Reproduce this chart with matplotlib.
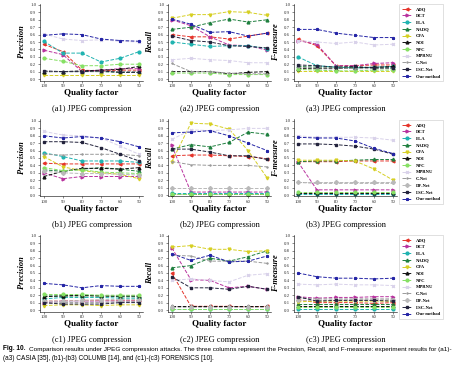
import numpy as np
import matplotlib
matplotlib.use('Agg')
import matplotlib.pyplot as plt

# quality factors (x axis, drawn from 100 down to 50)
quality = [100, 90, 80, 70, 60, 50]

methods = ['ADQ', 'DCT', 'ELA', 'NADQ', 'CFA', 'NOI', 'NFC', 'MPRNU',
           'C-Net', 'DF-Net', 'LSC-Net', 'Our method']

# style of every method (colour, marker)
colours = ['#e5332a', '#b8329e', '#1fb3b0', '#1e7f3e', '#d6cf23', '#111111',
           '#86e064', '#d9d2ea', '#9a9a9a', '#b9b9b9', '#23233c', '#2525a6']
markers = ['<', '>', 'o', '^', 'v', '^', 'o', 'x', '+', 'D', 's', '*']

# CASIA (row a), one list per method in the order of `methods`, None = not evaluated
a1 = [[0.47, 0.37, 0.12, 0.11, 0.12, 0.12], [0.39, 0.33, 0.10, 0.12, 0.14, 0.14],
      [0.51, 0.35, 0.35, 0.23, 0.28, 0.37], [0.10, 0.10, 0.10, 0.10, 0.09, 0.09],
      [0.06, 0.06, 0.06, 0.06, 0.06, 0.06], [0.10, 0.10, 0.11, 0.12, 0.13, 0.17],
      [0.28, 0.24, 0.18, 0.18, 0.20, 0.20], [0.61, 0.54, 0.52, 0.53, 0.51, 0.50],
      [0.11, 0.11, 0.11, 0.11, 0.11, 0.11], None,
      [0.11, 0.10, 0.10, 0.11, 0.09, 0.09], [0.59, 0.61, 0.60, 0.54, 0.52, 0.51]]
a2 = [[0.60, 0.57, 0.57, 0.54, 0.58, 0.62], [0.80, 0.72, 0.57, 0.46, 0.45, 0.39],
      [0.50, 0.47, 0.44, 0.45, 0.45, 0.41], [0.67, 0.70, 0.76, 0.81, 0.77, 0.80],
      [0.82, 0.87, 0.87, 0.91, 0.90, 0.86], [0.10, 0.10, 0.10, 0.07, 0.09, 0.10],
      [0.08, 0.08, 0.08, 0.06, 0.06, 0.06], [0.26, 0.28, 0.26, 0.25, 0.22, 0.22],
      [0.21, 0.10, 0.10, 0.08, 0.07, 0.07], None,
      [0.58, 0.52, 0.50, 0.45, 0.44, 0.42], [0.81, 0.74, 0.63, 0.64, 0.58, 0.62]]
a3 = [[0.54, 0.45, 0.18, 0.18, 0.19, 0.19], [0.52, 0.47, 0.18, 0.18, 0.21, 0.22],
      [0.30, 0.18, 0.16, 0.15, 0.16, 0.17], [0.17, 0.16, 0.16, 0.16, 0.15, 0.15],
      [0.11, 0.11, 0.11, 0.11, 0.11, 0.11], [0.14, 0.14, 0.14, 0.15, 0.16, 0.17],
      [0.13, 0.12, 0.11, 0.11, 0.12, 0.12], [0.52, 0.50, 0.48, 0.50, 0.46, 0.47],
      [0.16, 0.15, 0.15, 0.14, 0.14, 0.14], None,
      [0.19, 0.18, 0.16, 0.17, 0.15, 0.15], [0.67, 0.67, 0.62, 0.59, 0.56, 0.56]]

# COLUMB (row b)
b1 = [[0.43, 0.42, 0.42, 0.42, 0.42, 0.42], [0.30, 0.22, 0.25, 0.25, 0.25, 0.25],
      [0.57, 0.52, 0.46, 0.46, 0.46, 0.44], [0.34, 0.32, 0.35, 0.37, 0.35, 0.32],
      [0.52, 0.38, 0.33, 0.30, 0.28, 0.22], [0.25, 0.32, 0.36, 0.36, 0.35, 0.37],
      [0.37, 0.33, 0.34, 0.31, 0.30, 0.29], [0.86, 0.81, 0.80, 0.77, 0.66, 0.55],
      [0.55, 0.54, 0.55, 0.55, 0.55, 0.53], [0.32, 0.30, 0.29, 0.29, 0.28, 0.27],
      [0.72, 0.72, 0.71, 0.64, 0.55, 0.46], [0.80, 0.77, 0.79, 0.77, 0.72, 0.65]]
b2 = [[0.53, 0.54, 0.54, 0.53, 0.52, 0.49], [0.67, 0.04, 0.04, 0.04, 0.04, 0.04],
      [0.03, 0.03, 0.03, 0.03, 0.03, 0.03], [0.62, 0.68, 0.65, 0.71, 0.85, 0.82],
      [0.45, 0.97, 0.96, 0.89, 0.60, 0.23], [0.01, 0.01, 0.01, 0.01, 0.01, 0.01],
      [0.02, 0.02, 0.02, 0.02, 0.02, 0.02], [0.75, 0.88, 0.87, 0.88, 0.90, 0.90],
      [0.45, 0.41, 0.40, 0.40, 0.40, 0.38], [0.10, 0.10, 0.10, 0.10, 0.10, 0.10],
      [0.62, 0.62, 0.58, 0.53, 0.53, 0.48], [0.84, 0.85, 0.87, 0.80, 0.70, 0.60]]
b3 = [[0.45, 0.45, 0.45, 0.46, 0.46, 0.46], [0.45, 0.07, 0.07, 0.07, 0.07, 0.07],
      [0.02, 0.02, 0.02, 0.02, 0.02, 0.02], [0.45, 0.46, 0.46, 0.47, 0.48, 0.48],
      [0.47, 0.47, 0.47, 0.46, 0.35, 0.20], [0.03, 0.03, 0.03, 0.03, 0.03, 0.03],
      [0.04, 0.04, 0.04, 0.04, 0.04, 0.04], [0.80, 0.78, 0.78, 0.78, 0.77, 0.74],
      [0.17, 0.16, 0.16, 0.16, 0.16, 0.16], [0.17, 0.17, 0.17, 0.17, 0.17, 0.17],
      [0.69, 0.69, 0.68, 0.66, 0.62, 0.55], [0.78, 0.77, 0.77, 0.73, 0.63, 0.56]]

# FORENSICS (row c)
c1 = [[0.12, 0.12, 0.13, 0.13, 0.13, 0.13], [0.10, 0.12, 0.11, 0.12, 0.12, 0.12],
      [0.15, 0.17, 0.17, 0.17, 0.16, 0.16], [0.19, 0.19, 0.19, 0.19, 0.18, 0.18],
      [0.06, 0.07, 0.07, 0.06, 0.07, 0.07], [0.18, 0.19, 0.20, 0.19, 0.19, 0.19],
      [0.21, 0.21, 0.21, 0.20, 0.20, 0.20], [0.11, 0.11, 0.12, 0.12, 0.12, 0.12],
      [0.09, 0.10, 0.10, 0.10, 0.11, 0.11], [0.12, 0.12, 0.13, 0.14, 0.14, 0.14],
      [0.10, 0.08, 0.08, 0.08, 0.10, 0.10], [0.36, 0.34, 0.30, 0.33, 0.32, 0.32]]
c2 = [[0.50, 0.05, 0.05, 0.05, 0.04, 0.05], [0.84, 0.41, 0.40, 0.30, 0.32, 0.28],
      [0.01, 0.01, 0.01, 0.01, 0.01, 0.01], [0.57, 0.60, 0.70, 0.66, 0.72, 0.80],
      [0.85, 0.87, 0.82, 0.82, 0.79, 0.80], [0.06, 0.06, 0.06, 0.06, 0.06, 0.06],
      [0.02, 0.02, 0.02, 0.02, 0.02, 0.02], [0.40, 0.42, 0.40, 0.38, 0.47, 0.49],
      [0.74, 0.73, 0.66, 0.66, 0.66, 0.63], [0.04, 0.04, 0.04, 0.04, 0.04, 0.04],
      [0.45, 0.30, 0.30, 0.28, 0.32, 0.28], [0.76, 0.67, 0.74, 0.65, 0.66, 0.73]]
c3 = [[0.14, 0.10, 0.10, 0.10, 0.09, 0.10], [0.18, 0.16, 0.17, 0.17, 0.18, 0.18],
      [0.02, 0.02, 0.02, 0.02, 0.02, 0.02], [0.08, 0.08, 0.08, 0.08, 0.08, 0.08],
      [0.11, 0.12, 0.12, 0.12, 0.12, 0.12], [0.06, 0.06, 0.06, 0.06, 0.06, 0.06],
      [0.04, 0.04, 0.04, 0.04, 0.04, 0.04], [0.35, 0.34, 0.35, 0.34, 0.34, 0.33],
      [0.16, 0.15, 0.15, 0.15, 0.15, 0.15], [0.13, 0.13, 0.14, 0.14, 0.14, 0.14],
      [0.18, 0.12, 0.13, 0.13, 0.13, 0.12], [0.50, 0.45, 0.43, 0.43, 0.42, 0.43]]

panels = [[a1, a2, a3], [b1, b2, b3], [c1, c2, c3]]
row_names = ['a', 'b', 'c']
ylabels = ['Precision', 'Recall', 'F-measure']

serif = 'Liberation Serif'
fig = plt.figure(figsize=(4.62, 3.65), dpi=100)

lefts = [40 / 462, 168 / 462, 294 / 462]
bottoms = [1 - 80.5 / 365, 1 - 196.5 / 365, 1 - 311.5 / 365]
w, h = 103 / 462, 77 / 365

for r in range(3):
    for c in range(3):
        ax = fig.add_axes([lefts[c], bottoms[r], w, h])
        data = panels[r][c]
        for m in range(len(methods)):
            if data[m] is None:
                continue
            ax.plot(quality, data[m], color=colours[m], marker=markers[m],
                    markersize=2, linewidth=0.7, linestyle='--', label=methods[m])
        ax.set_xlim(102, 48)
        ax.set_ylim(-0.02, 1.02)
        ax.set_xticks(quality)
        ax.set_yticks(np.arange(0, 1.01, 0.1))
        ax.set_yticklabels(['%.1f' % v for v in np.arange(0, 1.01, 0.1)])
        ax.tick_params(labelsize=3.5, length=1.2, width=0.4, pad=1.5, colors='#333333')
        for lab in ax.get_xticklabels() + ax.get_yticklabels():
            lab.set_family(serif)
        ax.spines['top'].set_visible(False)
        ax.spines['right'].set_visible(False)
        ax.spines['left'].set_linewidth(0.4)
        ax.spines['bottom'].set_linewidth(0.4)
        ax.set_xlabel('Quality factor', family=serif, weight='bold', fontsize=6.5, labelpad=0.5)
        ax.set_ylabel(ylabels[c], family=serif, weight='bold', style='italic',
                      fontsize=6, labelpad=3)
        # panel caption under each plot
        ax.text(0.5, -0.37, '(%s%d) JPEG compression' % (row_names[r], c + 1),
                transform=ax.transAxes, ha='center', va='center', family=serif, fontsize=6)
        if c == 2:
            leg = ax.legend(loc='upper left', bbox_to_anchor=(1.0, 1.02),
                            prop={'family': serif, 'weight': 'bold', 'size': 3.3},
                            handlelength=2.2, labelspacing=0.55, borderpad=0.6,
                            frameon=True, fancybox=False)
            leg.get_frame().set_linewidth(0.4)
            leg.get_frame().set_edgecolor('#bbbbbb')

cap1 = ('Comparison results under JPEG compression attacks. The three columns represent the '
        'Precision, Recall, and F-measure: experiment results for (a1)-')
cap2 = '(a3) CASIA [35], (b1)-(b3) COLUMB [14], and (c1)-(c3) FORENSICS [10].'
fig.text(3 / 462, 1 - 349 / 365, 'Fig. 10.', fontsize=4.7, weight='bold', va='center',
         family='Liberation Sans')
fig.text(29 / 462, 1 - 349 / 365, cap1, fontsize=4.6, va='center', family='Liberation Sans')
fig.text(3 / 462, 1 - 358.5 / 365, cap2, fontsize=4.7, va='center', family='Liberation Sans')

fig.savefig('out.png', dpi=100)
